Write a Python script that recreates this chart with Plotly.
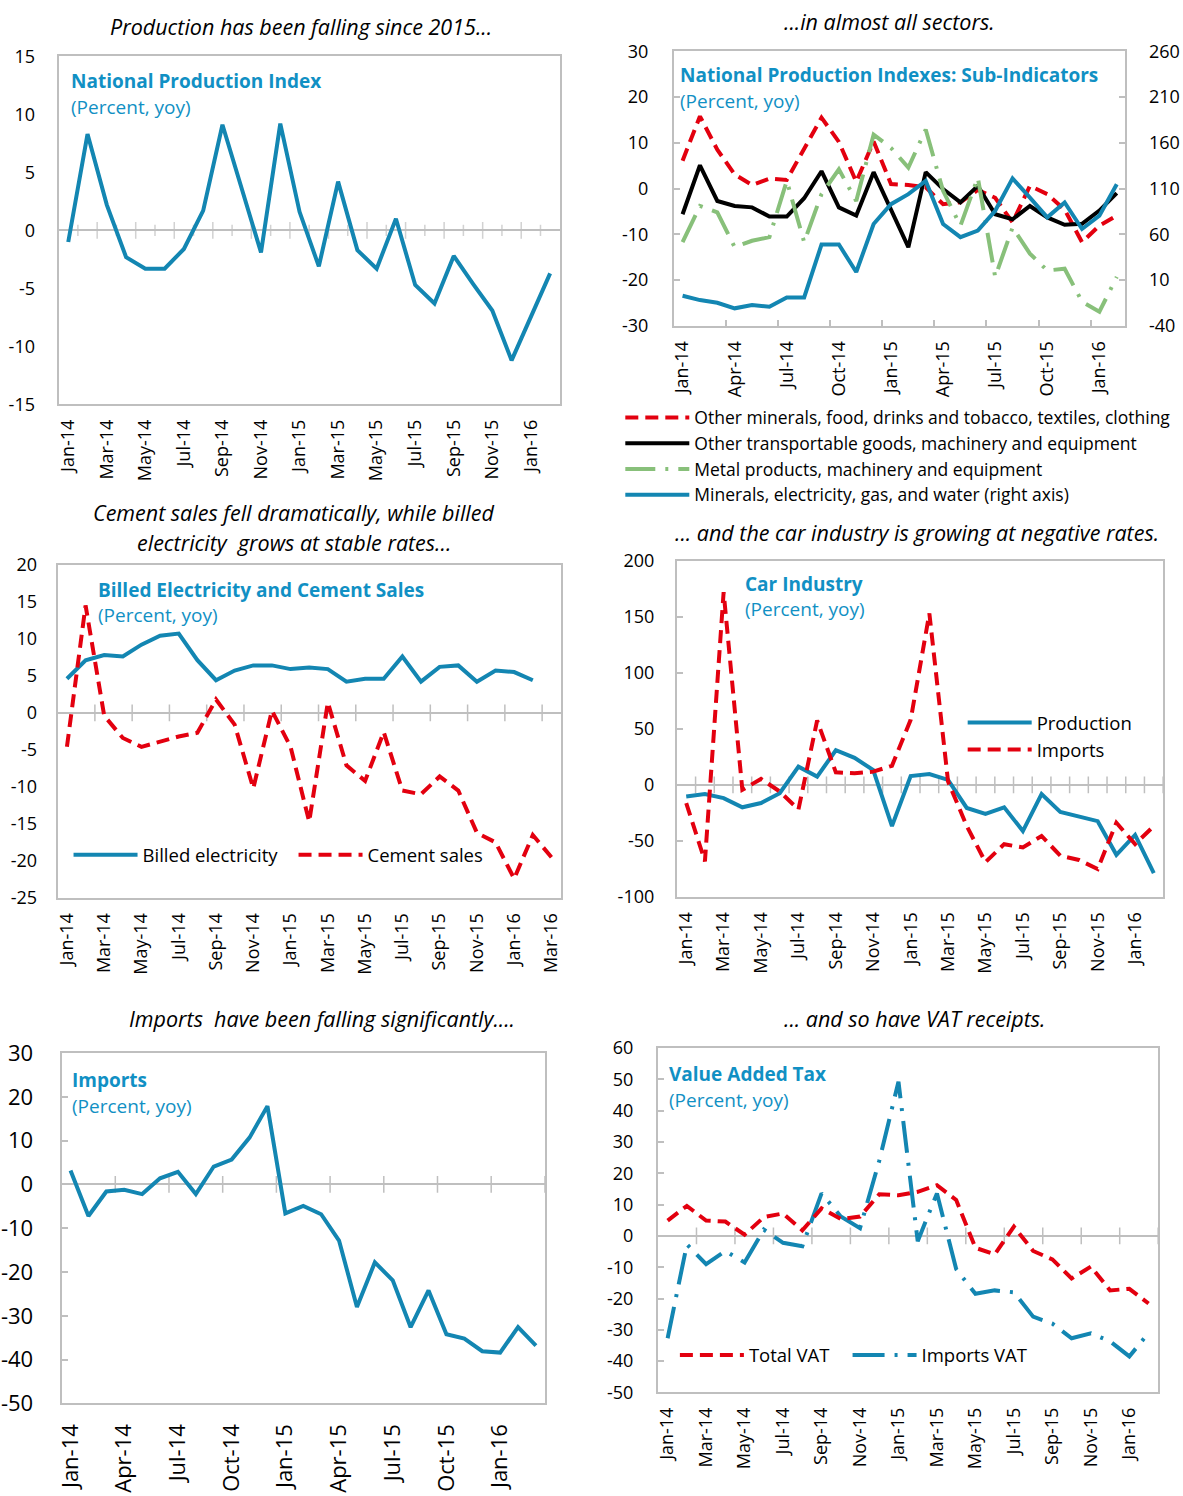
import plotly.graph_objects as go

W, H = 1183, 1496

# ---------------- data ----------------
months = ["Jan-14", "Feb-14", "Mar-14", "Apr-14", "May-14", "Jun-14", "Jul-14", "Aug-14",
          "Sep-14", "Oct-14", "Nov-14", "Dec-14", "Jan-15", "Feb-15", "Mar-15", "Apr-15",
          "May-15", "Jun-15", "Jul-15", "Aug-15", "Sep-15", "Oct-15", "Nov-15", "Dec-15",
          "Jan-16", "Feb-16", "Mar-16"]

npi = [-1.0, 8.3, 2.2, -2.3, -3.3, -3.3, -1.6, 1.7, 9.1, 3.6, -1.9, 9.2, 1.6, -3.1, 4.2,
       -1.7, -3.3, 1.0, -4.7, -6.3, -2.2, -4.6, -6.9, -11.2, -7.4, -3.7]

sub_other_minerals = [6.1, 15.8, 8.5, 3.1, 0.8, 2.2, 1.9, 8.5, 15.5, 10.2, 1.5, 10.3, 1.0,
                      0.8, 0.3, -3.4, -3.0, -0.3, -2.0, -7.4, 0.6, -1.2, -4.6, -11.7, -8.1, -5.9]
sub_other_transport = [-5.6, 5.1, -2.7, -3.8, -4.1, -6.1, -6.1, -2.1, 3.8, -4.1, -5.9, 3.6,
                       -4.6, -12.8, 3.6, -0.1, -3.0, 0.6, -5.6, -6.7, -3.8, -6.3, -7.9, -7.7,
                       -4.8, -1.0]
sub_metal = [-11.7, -3.8, -5.2, -12.8, -11.4, -10.6, 1.7, -11.7, -1.2, 4.2, -2.7, 11.8, 8.9,
             4.6, 12.9, -0.5, -8.1, 2.4, -19.3, -8.5, -14.2, -17.9, -17.5, -24.7, -26.9, -19.3]
sub_minerals_elec = [-7.1, -11.8, -14.7, -20.8, -17.2, -19.0, -8.9, -8.9, 48.9, 48.9, 18.9,
                     71.3, 93.0, 103.9, 118.3, 71.3, 56.9, 64.1, 85.8, 121.2, 100.2, 78.6,
                     94.8, 65.9, 80.4, 114.7]
sub_names = ["Other minerals, food, drinks and tobacco, textiles, clothing",
             "Other transportable goods, machinery and equipment",
             "Metal products, machinery and equipment",
             "Minerals, electricity, gas, and water (right axis)"]

billed_electricity = [4.6, 7.1, 7.8, 7.6, 9.2, 10.4, 10.7, 7.1, 4.4, 5.7, 6.4, 6.4, 5.9, 6.1,
                      5.9, 4.2, 4.6, 4.6, 7.6, 4.2, 6.2, 6.4, 4.2, 5.7, 5.5, 4.4]
cement_sales = [-4.6, 14.5, -0.4, -3.4, -4.6, -3.9, -3.2, -2.7, 1.8, -1.6, -10.2, 0.3, -4.6,
                -14.7, 1.4, -7.1, -9.2, -2.6, -10.5, -11.0, -8.6, -10.5, -16.2, -17.5, -22.4,
                -16.5, -19.5]

car_production = [-10.3, -8.2, -11.8, -20.0, -16.2, -7.4, 16.2, 7.4, 30.9, 24.1, 13.2, -36.8,
                  7.9, 9.7, 4.4, -20.6, -25.9, -20.0, -41.2, -8.2, -24.1, -27.9, -32.4, -62.4,
                  -44.7, -78.8]
car_imports = [-16.2, -68.2, 172.0, -4.4, 5.3, -5.9, -22.0, 57.4, 11.2, 10.3, 11.8, 17.0, 58.0,
               153.0, 3.0, -36.8, -69.0, -52.9, -55.9, -45.6, -63.2, -67.0, -75.0, -33.8,
               -52.9, -36.8]

imports = [3.2, -7.2, -1.6, -1.2, -2.2, 1.4, 2.9, -2.2, 4.1, 5.7, 10.7, 17.9, -6.6, -4.9, -6.8,
           -12.8, -28.0, -17.8, -21.9, -32.6, -24.2, -34.2, -35.2, -38.1, -38.4, -32.6, -36.8]

vat_total = [4.9, 9.6, 4.9, 4.6, 0.4, 6.0, 7.2, 1.8, 8.8, 5.4, 6.2, 13.3, 13.0, 14.1, 16.2,
             11.5, -3.8, -5.9, 3.0, -4.8, -7.5, -13.6, -9.8, -17.4, -16.9, -21.6]
vat_imports = [-32.7, -2.7, -9.0, -4.8, -8.5, 2.0, -2.2, -3.3, 13.6, 6.2, 2.5, 24.0, 49.3, -1.7,
               13.6, -10.6, -18.5, -17.4, -18.0, -25.8, -28.0, -32.7, -31.1, -33.7, -38.5, -31.0]

# ---------------- styles ----------------
FONT = "Open Sans"
GRAY = "#BFBFBF"
BLUE = "#1386B2"
TBLUE = "#1190C4"
RED = "#E3000F"
GREEN = "#88C07A"
BLACK = "#000000"
LW = 4

# mapping of wanted on-screen pixel positions to paper fractions
OX, OY, SY = 2.0, 11.5, 0.985


def fx(p):
    return (p - OX) / W


def fy(p):
    return 1 - ((p - OY) / SY) / H


# plot boxes in pixels: (left, right, top, bottom)
boxes = {
    1: (53, 558, 52, 402),
    2: (673, 1128, 47, 323),
    3: (52, 559, 563, 898),
    4: (676, 1166, 559, 897),
    5: (56, 543, 1054, 1406),
    6: (657, 1161, 1049, 1395),
}


def xdom(n):
    l, r, t, b = boxes[n]
    return [fx(l), fx(r)]


def ydom(n):
    l, r, t, b = boxes[n]
    return [fy(b), fy(t)]


def xaxis_cfg(n, nslots, step, anchor, minor_vals=None, fsize=18, standoff=6):
    idx = list(range(nslots))
    cfg = dict(domain=xdom(n), range=[-0.5, nslots - 0.5], tickmode="array",
               tickvals=idx[::step], ticktext=months[:nslots:step], tickangle=-90,
               showline=True, mirror=True, linecolor=GRAY, linewidth=2, showgrid=False,
               zeroline=False, ticks="", anchor=anchor,
               tickfont=dict(family=FONT, size=fsize, color="black"),
               ticklabelstandoff=standoff)
    if minor_vals is not None:
        cfg["minor"] = dict(tickmode="array", tickvals=minor_vals, ticks="inside",
                            ticklen=6, tickcolor=GRAY, tickwidth=1.5)
    return cfg


def yaxis_cfg(n, lo, hi, step, anchor, zero=True, ticks_in=False, side="left", standoff=16,
              fsize=18):
    vals = list(range(lo, hi + 1, step))
    return dict(domain=ydom(n), range=[lo, hi], tickmode="array", tickvals=vals,
                ticktext=[str(v) for v in vals], showline=True, mirror=True,
                linecolor=GRAY, linewidth=2, showgrid=False, zeroline=zero,
                zerolinecolor=GRAY, zerolinewidth=2, ticks="inside" if ticks_in else "",
                ticklen=6, tickcolor=GRAY, tickwidth=1.5, anchor=anchor, side=side,
                tickfont=dict(family=FONT, size=fsize, color="black"),
                ticklabelstandoff=standoff)


fig = go.Figure()


def zero_ticks(xa, ya, positions, sizes):
    fig.add_trace(go.Scatter(x=positions, y=[0] * len(positions), mode="markers",
                             xaxis=xa, yaxis=ya, hoverinfo="skip", showlegend=False,
                             marker=dict(symbol="line-ns", size=sizes, color=GRAY,
                                         line=dict(width=1.5, color=GRAY))))


def line(xa, ya, vals, color, dash="solid", width=LW, name=None, legend=None, rank=None):
    fig.add_trace(go.Scatter(x=list(range(len(vals))), y=vals, mode="lines",
                             xaxis=xa, yaxis=ya, name=name,
                             showlegend=legend is not None, legend=legend or "legend",
                             legendrank=rank if rank is not None else 1000,
                             line=dict(color=color, width=width, dash=dash)))


RDASH = "13px,7px"
GDASH = "30px,10px,3px,10px"
BDASH = "32px,10px,3px,10px"

# Panel 1 - National Production Index
b1 = [i + 0.5 for i in range(25)]
zero_ticks("x", "y", b1, [12 if i % 2 else 8 for i in range(25)])
line("x", "y", npi, BLUE)

# Panel 2 - Sub-indicators
line("x2", "y2", sub_other_minerals, RED, RDASH, name=sub_names[0], legend="legend")
line("x2", "y2", sub_other_transport, BLACK, name=sub_names[1], legend="legend")
line("x2", "y2", sub_metal, GREEN, GDASH, name=sub_names[2], legend="legend")
line("x2", "y3", sub_minerals_elec, BLUE, name=sub_names[3], legend="legend")

# Panel 3 - Billed electricity and cement
b3 = [i + 1.5 for i in range(0, 26, 2)]
zero_ticks("x3", "y4", b3, 12)
line("x3", "y4", billed_electricity, BLUE, name="Billed electricity", legend="legend2")
line("x3", "y4", cement_sales, RED, RDASH, name="Cement sales", legend="legend2")

# Panel 4 - Car industry
b4 = [i + 0.5 for i in range(26)]
zero_ticks("x4", "y5", b4, 12)
line("x4", "y5", car_production, BLUE, name="Production", legend="legend3")
line("x4", "y5", car_imports, RED, RDASH, name="Imports", legend="legend3")

# Panel 5 - Imports
b5 = [i + 2.5 for i in range(0, 25, 3)]
zero_ticks("x5", "y6", b5, 12)
line("x5", "y6", imports, BLUE)

# Panel 6 - VAT
b6 = [i + 1.5 for i in range(0, 25, 2)]
zero_ticks("x6", "y7", b6, 12)
line("x6", "y7", vat_imports, BLUE, BDASH, name="Imports VAT", legend="legend5")
line("x6", "y7", vat_total, RED, RDASH, name="Total VAT", legend="legend4")

# ---------------- axes ----------------
layout = dict(
    xaxis=xaxis_cfg(1, 26, 2, "y"),
    yaxis=yaxis_cfg(1, -15, 15, 5, "x", standoff=18),
    xaxis2=xaxis_cfg(2, 26, 3, "y2", minor_vals=[i + 2.5 for i in range(0, 24, 3)]),
    yaxis2=yaxis_cfg(2, -30, 30, 10, "x2", zero=False, ticks_in=True, standoff=20),
    yaxis3=dict(yaxis_cfg(2, -40, 260, 50, "x2", zero=False, ticks_in=True, side="right",
                          standoff=18),
                overlaying="y2"),
    xaxis3=xaxis_cfg(3, 27, 2, "y4"),
    yaxis4=yaxis_cfg(3, -25, 20, 5, "x3", standoff=15),
    xaxis4=xaxis_cfg(4, 26, 2, "y5"),
    yaxis5=yaxis_cfg(4, -100, 200, 50, "x4", ticks_in=True, standoff=17),
    xaxis5=xaxis_cfg(5, 27, 3, "y6", fsize=22, standoff=10),
    yaxis6=yaxis_cfg(5, -50, 30, 10, "x5", ticks_in=True, standoff=22, fsize=22),
    xaxis6=xaxis_cfg(6, 26, 2, "y7"),
    yaxis7=yaxis_cfg(6, -50, 60, 10, "x6", ticks_in=True, standoff=19),
)
layout["yaxis3"]["mirror"] = False

leg_font2 = dict(family=FONT, size=18.5, color="black")
layout.update(
    legend=dict(x=fx(619), y=fy(397), xanchor="left", yanchor="top", bgcolor="rgba(0,0,0,0)",
                font=dict(family=FONT, size=17.5, color="black"), itemwidth=64,
                tracegroupgap=0, traceorder="normal"),
    legend2=dict(x=fx(63), y=fy(855), xanchor="left", yanchor="middle", orientation="h",
                 bgcolor="rgba(0,0,0,0)", font=leg_font2,
                 itemwidth=64, entrywidth=146, entrywidthmode="pixels"),
    legend3=dict(x=fx(964), y=fy(703), xanchor="left", yanchor="top",
                 bgcolor="rgba(0,0,0,0)", font=leg_font2, itemwidth=64),
    legend4=dict(x=fx(674), y=fy(1358), xanchor="left", yanchor="middle",
                 bgcolor="rgba(0,0,0,0)", font=leg_font2, itemwidth=64),
    legend5=dict(x=fx(848), y=fy(1358), xanchor="left", yanchor="middle",
                 bgcolor="rgba(0,0,0,0)", font=leg_font2, itemwidth=64),
)

fig.update_layout(**layout)

# ---------------- annotations ----------------
annots = []


def note(text, x, y, size, color="black", xanchor="left"):
    annots.append(dict(text=text, x=fx(x), y=fy(y), xref="paper", yref="paper",
                       xanchor=xanchor, yanchor="middle", showarrow=False,
                       font=dict(family=FONT, size=size, color=color)))


# italic captions
CAP = 21.5
note("<i>Production has been falling since 2015...</i>", 297, 22, CAP, xanchor="center")
note("<i>...in almost all sectors.</i>", 890, 17, CAP, xanchor="center")
note("<i>Cement sales fell dramatically, while billed</i>", 290, 511, CAP, xanchor="center")
note("<i>electricity  grows at stable rates...</i>", 290, 541, CAP, xanchor="center")
note("<i>... and the car industry is growing at negative rates.</i>", 918, 531, CAP,
     xanchor="center")
note("<i>Imports  have been falling significantly....</i>", 318, 1019, CAP, xanchor="center")
note("<i>... and so have VAT receipts.</i>", 915, 1019, CAP, xanchor="center")

# panel titles
titles = [
    ("National Production Index", 63, 77),
    ("National Production Indexes: Sub-Indicators", 677, 71),
    ("Billed Electricity and Cement Sales", 91, 588),
    ("Car Industry", 743, 582),
    ("Imports", 64, 1081),
    ("Value Added Tax", 666, 1075),
]
for t, x, y in titles:
    note("<b>" + t + "</b>", x, y, 19, TBLUE)
    note("(Percent, yoy)", x, y + 26, 19, TBLUE)

fig.update_layout(annotations=annots, width=W, height=H, margin=dict(l=0, r=0, t=0, b=0),
                  paper_bgcolor="white", plot_bgcolor="white",
                  font=dict(family=FONT, size=17, color="black"), hovermode=False)

fig.write_html("out.html", config={"displayModeBar": False},
               post_script="document.body.style.margin='0px';"
                           "document.body.style.overflow='hidden';")
